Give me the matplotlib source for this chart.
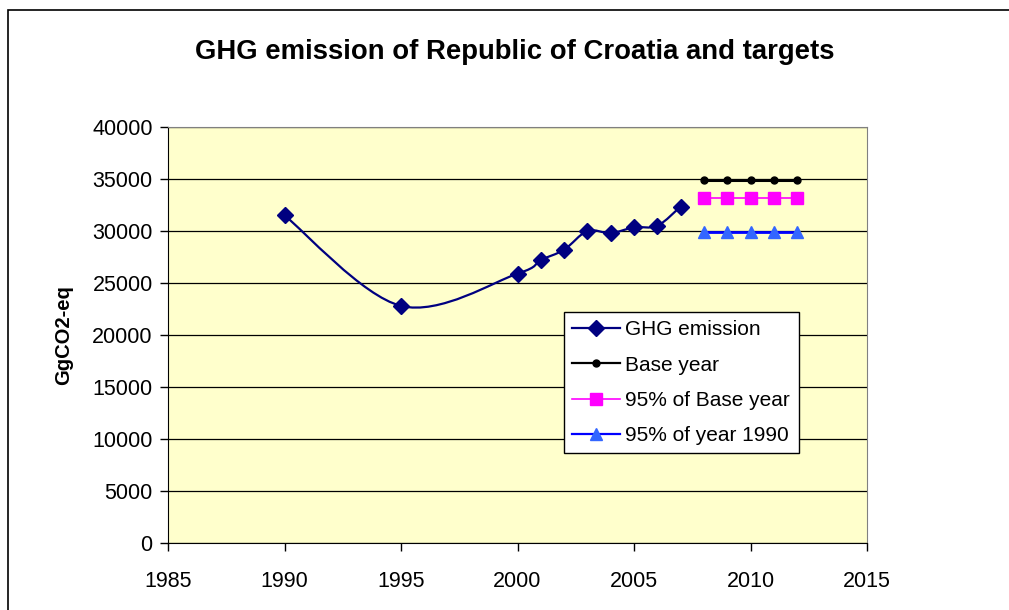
import numpy as np
import matplotlib
matplotlib.use('Agg')
import matplotlib.pyplot as plt
from matplotlib.path import Path
from matplotlib.patches import PathPatch, Rectangle
from matplotlib.lines import Line2D

plt.rcParams['font.family'] = ['Liberation Sans', 'DejaVu Sans']

# data
ghg_years = [1990, 1995, 2000, 2001, 2002, 2003, 2004, 2005, 2006, 2007]
ghg_values = [31500, 22800, 25900, 27200, 28200, 30000, 29800, 30350, 30500, 32350]
target_years = [2008, 2009, 2010, 2011, 2012]
base_year = [34900, 34900, 34900, 34900, 34900]
base_95 = [33150, 33150, 33150, 33150, 33150]
y1990_95 = [29900, 29900, 29900, 29900, 29900]

navy = '#000080'

fig = plt.figure(figsize=(10.09, 6.10), dpi=100)
W, H = 1009, 610
ax = fig.add_axes([168 / W, 1 - 543 / H, (867 - 168) / W, (543 - 127) / H])
ax.set_facecolor('#FFFFCC')

# figure frame
fig.patches.append(Rectangle((8 / W, -0.1), 1.2, 1 - 10 / H + 0.1, transform=fig.transFigure,
                             fill=False, edgecolor='black', linewidth=1.2))


# Excel-like smoothed line (Catmull-Rom as cubic Bezier)
def smooth_path(xs, ys):
    pts = np.column_stack([xs, ys]).astype(float)
    verts = [pts[0]]
    codes = [Path.MOVETO]
    n = len(pts)
    for i in range(n - 1):
        p0 = pts[i - 1] if i > 0 else pts[i]
        p1 = pts[i]
        p2 = pts[i + 1]
        p3 = pts[i + 2] if i + 2 < n else pts[i + 1]
        c1 = p1 + (p2 - p0) / 6
        c2 = p2 - (p3 - p1) / 6
        verts += [c1, c2, p2]
        codes += [Path.CURVE4] * 3
    return Path(verts, codes)


ax.add_patch(PathPatch(smooth_path(ghg_years, ghg_values), fill=False,
                       edgecolor=navy, linewidth=1.6, zorder=3))
ax.plot(ghg_years, ghg_values, linestyle='none', marker='D', color=navy,
        markersize=8.5, zorder=4)

ax.plot(target_years, base_year, color='black', linewidth=2.2, marker='o', markersize=5, zorder=4)
ax.plot(target_years, base_95, color='#FF00FF', linewidth=1.2, marker='s', markersize=8, zorder=4)
ax.plot(target_years, y1990_95, color='#0000FF', linewidth=2, marker='^', markersize=9,
        markerfacecolor='#3366FF', markeredgecolor='#3366FF', zorder=4)

ax.set_xlim(1985, 2015)
ax.set_ylim(0, 40000)
ax.set_xticks(range(1985, 2016, 5))
ax.set_yticks(range(0, 40001, 5000))
ax.yaxis.grid(True, color='black', linewidth=0.9)
ax.set_axisbelow(True)
ax.tick_params(direction='out', length=6, width=1, labelsize=15.5, pad=5)
ax.tick_params(axis='x', pad=14)
for s in ['left', 'bottom']:
    ax.spines[s].set_color('black')
for s in ['top', 'right']:
    ax.spines[s].set_color('#808080')

ax.set_ylabel('GgCO2-eq', fontsize=14.5, fontweight='bold', labelpad=14)
fig.text(515 / W, 1 - 52 / H, 'GHG emission of Republic of Croatia and targets',
         ha='center', va='center', fontsize=19.8, fontweight='bold')

handles = [
    Line2D([], [], color=navy, marker='D', markersize=8.5, linewidth=1.6),
    Line2D([], [], color='black', marker='o', markersize=5, linewidth=1.6),
    Line2D([], [], color='#FF00FF', marker='s', markersize=8, linewidth=1.2),
    Line2D([], [], color='#0000FF', marker='^', markersize=9, linewidth=1.6,
           markerfacecolor='#3366FF', markeredgecolor='#3366FF'),
]
labels = ['GHG emission', 'Base year', '95% of Base year', '95% of year 1990']
leg = ax.legend(handles, labels, loc='upper left', bbox_to_anchor=((564 - 168) / 699, (543 - 312) / 416),
                borderaxespad=0, fontsize=15, frameon=True, fancybox=False, framealpha=1,
                edgecolor='black', handlelength=2.3, handletextpad=0.25, labelspacing=0.78,
                borderpad=0.4)
leg.get_frame().set_linewidth(1)

fig.savefig('out.png', dpi=100)
